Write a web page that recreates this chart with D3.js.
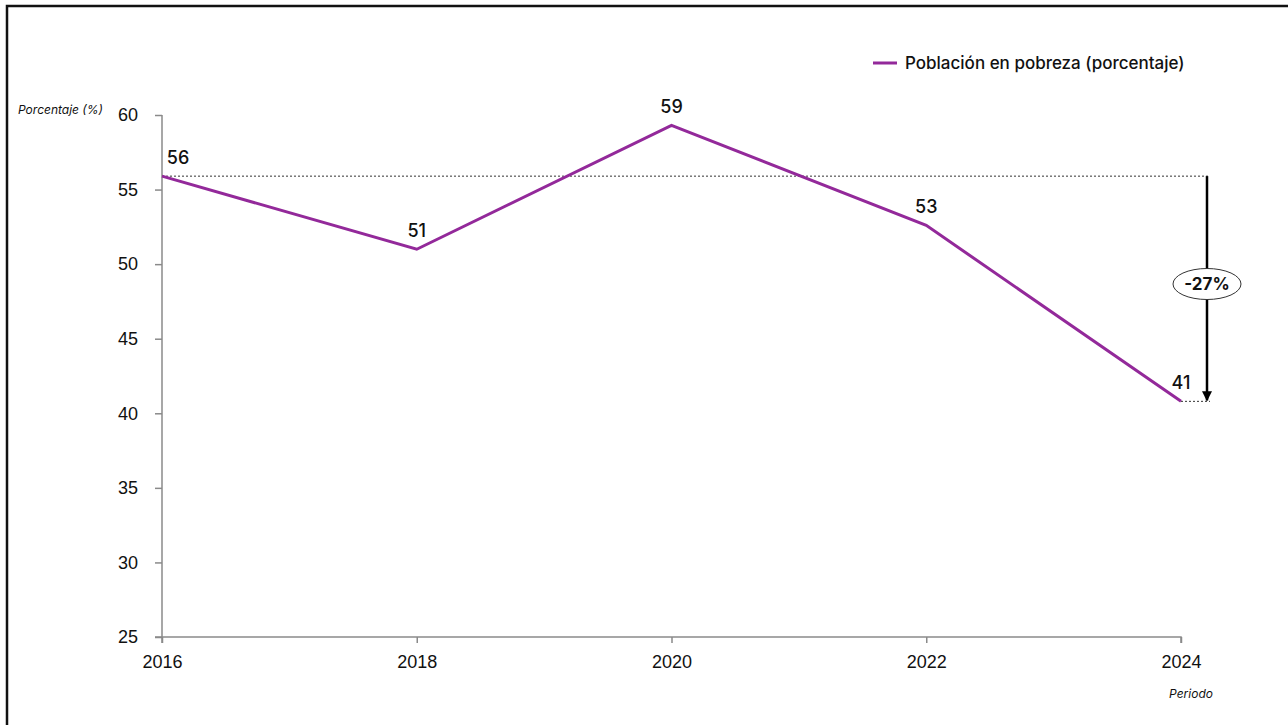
<!DOCTYPE html>
<html><head><meta charset="utf-8">
<script src="https://cdn.jsdelivr.net/npm/d3@7"></script>
<style>body{margin:0;background:#fff;}svg{display:block;font-family:"Inter","Liberation Sans",sans-serif;}</style>
</head><body><svg id="c" width="1288" height="725"></svg>
<script>
const years = [2016, 2018, 2020, 2022, 2024];
const values = [55.9, 51.0, 59.3, 52.6, 40.8];
const labels = ["56", "51", "59", "53", "41"];
const yTicks = [25, 30, 35, 40, 45, 50, 55, 60];
const seriesName = "Población en pobreza (porcentaje)";
const changeLabel = "-27%";

const svg = d3.select("#c");
svg.append("rect").attr("x",7).attr("y",6).attr("width",1290).attr("height",730)
  .attr("fill","none").attr("stroke","#111").attr("stroke-width",2.5);

const x = d3.scalePoint().domain(years).range([162,1181]);
const y = d3.scaleLinear().domain([25,60]).range([637,115]);
const color = "#93299A";
const fs = 18;

// y axis
const ya = svg.append("g").attr("transform","translate(162,0)")
  .call(d3.axisLeft(y).tickValues(yTicks).tickSize(7).tickPadding(17));
ya.select(".domain").attr("stroke","#8a8a8a").attr("stroke-width",1.5).attr("d","M0,115V643");
ya.selectAll(".tick line").attr("stroke","#8a8a8a").attr("stroke-width",1.5);
ya.selectAll(".tick text").attr("font-size",fs).attr("font-weight",500).attr("fill","#111");

// x axis
const xa = svg.append("g").attr("transform","translate(0,637)")
  .call(d3.axisBottom(x).tickSize(6).tickPadding(12));
xa.select(".domain").attr("stroke","#8a8a8a").attr("stroke-width",1.5).attr("d","M155,0H1181V6");
xa.selectAll(".tick line").attr("stroke","#8a8a8a").attr("stroke-width",1.5);
xa.selectAll(".tick text").attr("font-size",fs).attr("font-weight",500).attr("fill","#111");

svg.append("text").attr("x",18).attr("y",114).attr("font-size",12).attr("font-style","italic").attr("fill","#111").text("Porcentaje (%)");
svg.append("text").attr("x",1191).attr("y",698).attr("text-anchor","middle").attr("font-size",12).attr("font-style","italic").attr("fill","#111").text("Periodo");

// reference dotted lines
const y0 = y(values[0]), y1 = y(values[values.length-1]);
const xEnd = 1210, xArrow = 1207;
svg.append("line").attr("x1",x(years[0])).attr("x2",xEnd).attr("y1",y0).attr("y2",y0)
  .attr("stroke","#333").attr("stroke-width",1).attr("stroke-dasharray","2,2");
svg.append("line").attr("x1",x(years[years.length-1])).attr("x2",xEnd).attr("y1",y1).attr("y2",y1)
  .attr("stroke","#333").attr("stroke-width",1).attr("stroke-dasharray","2,2");

// line
svg.append("path").datum(values.map((v,i)=>[years[i],v]))
  .attr("fill","none").attr("stroke",color).attr("stroke-width",3)
  .attr("d", d3.line().x(d=>x(d[0])).y(d=>y(d[1])));

// data labels
const lblOff = [[16,-12],[0,-12],[0,-12],[0,-12],[0,-12]];
svg.selectAll(".dl").data(values).join("text").attr("class","dl")
  .attr("x",(d,i)=>x(years[i])+lblOff[i][0]).attr("y",(d,i)=>y(d)+lblOff[i][1])
  .attr("text-anchor","middle").attr("font-size",fs).attr("font-weight",500).attr("fill","#111").text((d,i)=>labels[i]);

// arrow
svg.append("defs").append("marker").attr("id","ah").attr("viewBox","0 0 10 10").attr("refX",9).attr("refY",5)
  .attr("markerWidth",4).attr("markerHeight",4.5).attr("orient","auto")
  .append("path").attr("d","M0,0L10,5L0,10Z").attr("fill","#000");
svg.append("line").attr("x1",xArrow).attr("x2",xArrow).attr("y1",y0).attr("y2",y1-1)
  .attr("stroke","#000").attr("stroke-width",2.5).attr("marker-end","url(#ah)");
const cy = 284;
svg.append("ellipse").attr("cx",xArrow).attr("cy",cy).attr("rx",34).attr("ry",15.5)
  .attr("fill","#fff").attr("stroke","#333").attr("stroke-width",1);
svg.append("text").attr("x",xArrow).attr("y",cy+6).attr("text-anchor","middle").attr("font-size",17)
  .attr("font-weight","bold").attr("fill","#111").text(changeLabel);

// legend
svg.append("line").attr("x1",873).attr("x2",897).attr("y1",63).attr("y2",63).attr("stroke",color).attr("stroke-width",3);
svg.append("text").attr("x",905).attr("y",69).attr("font-size",17).attr("font-weight",500).attr("fill","#111").text(seriesName);
</script></body></html>
